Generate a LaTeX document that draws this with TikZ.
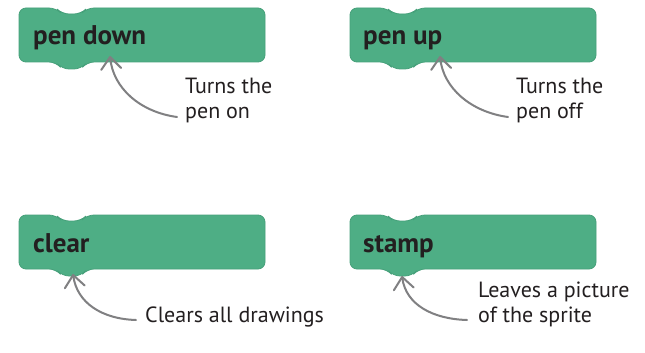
\documentclass[tikz,border=0pt]{standalone}
\usepackage{fontspec}
\setmainfont{PT Sans}
\usetikzlibrary{arrows.meta}
\definecolor{blockgreen}{RGB}{78,174,133}
\definecolor{blockedge}{RGB}{70,160,122}
\definecolor{inkdark}{RGB}{35,31,32}
\definecolor{arrowgray}{RGB}{128,128,130}
\tikzset{
  blocktext/.style={anchor=base west, inner sep=0pt, text=inkdark, font=\bfseries\fontsize{27}{32}\selectfont},
  note/.style={anchor=base west, inner sep=0pt, text=inkdark, align=left, font=\fontsize{22}{24.5}\selectfont},
  pointer/.style={draw=arrowgray, line width=2pt, line cap=round, -{Straight Barb[length=12pt,width=20pt,line cap=round,line join=round]}},
  blockfill/.style={fill=blockgreen, draw=blockedge, line width=0.8pt, rounded corners=7pt}
}
\newcommand{\scratchblock}[2]{%
  \path[blockfill] (#1,#2) -- (#1+37,#2) -- (#1+43,#2+6) -- (#1+62,#2+6) -- (#1+68,#2)
    -- (#1+246,#2) -- (#1+246,#2+54) -- (#1+68,#2+54) -- (#1+62,#2+61) -- (#1+43,#2+61)
    -- (#1+37,#2+54) -- (#1,#2+54) -- cycle;}
\begin{document}
\begin{tikzpicture}[x=1pt,y=-1pt]
\useasboundingbox (0,0) rectangle (645,353);
\fill[white] (0,0) rectangle (645,353);
% blocks
\scratchblock{19}{8}
\scratchblock{350}{8}
\scratchblock{19}{215}
\scratchblock{350}{215}
\node[blocktext] (b1) at (33,45) {pen down};
\node[blocktext] (b2) at (363,45) {pen up};
\node[blocktext] (b3) at (33,252) {clear};
\node[blocktext] (b4) at (363,252) {stamp};
% notes
\node[note] (n1) at (185,118) {Turns the\\pen on};
\node[note] (n2) at (516,118) {Turns the\\pen off};
\node[note] (n3) at (145,322) {Clears all drawings};
\node[note] (n4) at (478,322) {Leaves a picture\\of the sprite};
% tips and tails
\coordinate (t1) at (110,56);
\coordinate (t2) at (440,56);
\coordinate (t3) at (73,274);
\coordinate (t4) at (402,276);
\coordinate (s1) at (177,117);
\coordinate (s2) at (508,117);
\coordinate (s3) at (136,320);
\coordinate (s4) at (467,320);
\draw[pointer] (s1) .. controls (140,112) and (113,88) .. (t1);
\draw[pointer] (s2) .. controls (471,112) and (443,88) .. (t2);
\draw[pointer] (s3) .. controls (102,319) and (77,303) .. (t3);
\draw[pointer] (s4) .. controls (433,319) and (406,305) .. (t4);
\end{tikzpicture}
\end{document}
